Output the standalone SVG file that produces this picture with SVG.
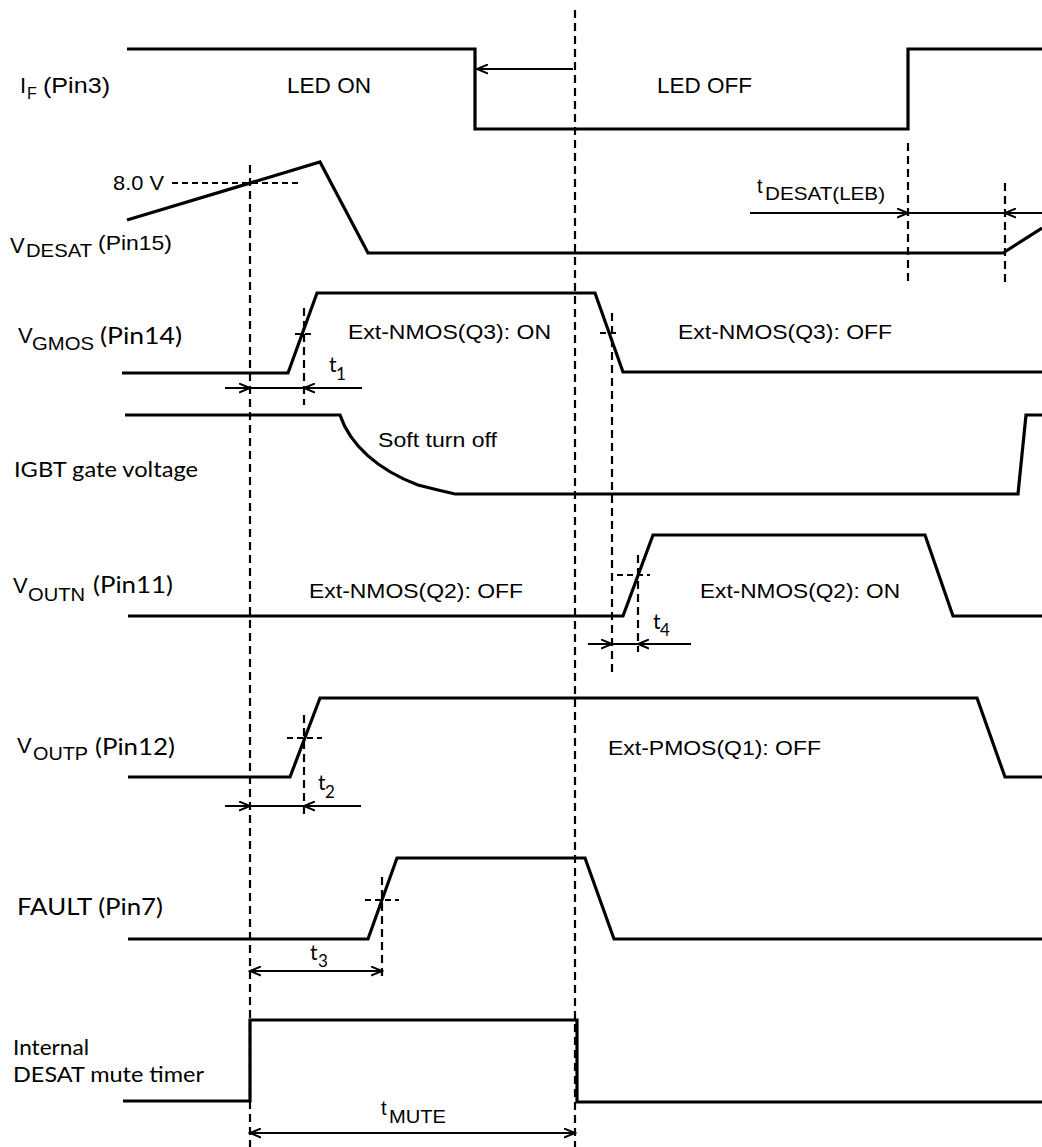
<svg xmlns="http://www.w3.org/2000/svg" width="1042" height="1147" viewBox="0 0 1042 1147">
<style>
.sig{fill:none;stroke:#000;stroke-width:3.2;stroke-linejoin:miter}
.dv{fill:none;stroke:#000;stroke-width:2.2;stroke-dasharray:8 5}
.dh{fill:none;stroke:#000;stroke-width:2;stroke-dasharray:6 4}
.ar{fill:none;stroke:#000;stroke-width:2}
.a{font-family:"Liberation Sans",Arial,sans-serif;fill:#000}
.c{font-family:Lato,"Liberation Sans",sans-serif;fill:#000}
</style>
<defs>
<marker id="ah" markerUnits="userSpaceOnUse" markerWidth="13" markerHeight="11" refX="11" refY="5" orient="auto" viewBox="0 0 13 10">
<path d="M0,0.5 L11,5 L0,9.5" fill="none" stroke="#000" stroke-width="2"/>
</marker>
</defs>
<rect width="1042" height="1147" fill="#fff"/>

<g id="guides">
<line class="dv" x1="250" y1="165" x2="250" y2="1147"/>
<line class="dv" x1="575" y1="10" x2="575" y2="1147"/>
<line class="dv" x1="304" y1="308" x2="304" y2="405"/>
<line class="dv" x1="612" y1="313" x2="612" y2="673"/>
<line class="dv" x1="638" y1="555" x2="638" y2="652"/>
<line class="dv" x1="304" y1="715" x2="304" y2="816"/>
<line class="dv" x1="382" y1="877" x2="382" y2="978"/>
<line class="dv" x1="908" y1="143" x2="908" y2="283"/>
<line class="dv" x1="1005" y1="183" x2="1005" y2="283"/>
<line class="dh" x1="172" y1="183" x2="299" y2="183"/>
<line class="dh" x1="295" y1="334" x2="315" y2="334"/>
<line class="dh" x1="600" y1="333" x2="620" y2="333"/>
<line class="dh" x1="617" y1="575" x2="650" y2="575"/>
<line class="dh" x1="287" y1="738" x2="322" y2="738"/>
<line class="dh" x1="365" y1="900" x2="399" y2="900"/>
</g>

<g id="sig-if">
<polyline class="sig" points="127,49 475,49 475,129 908,129 908,49 1042,49"/>
<text class="a" x="20" y="93" font-size="22">I</text>
<text class="a" x="27" y="99" font-size="16">F</text>
<text class="a" x="43" y="93" font-size="22" textLength="67" lengthAdjust="spacingAndGlyphs">(Pin3)</text>
<text class="a" x="287" y="93" font-size="22" textLength="84" lengthAdjust="spacingAndGlyphs">LED ON</text>
<text class="a" x="657" y="93" font-size="22" textLength="95" lengthAdjust="spacingAndGlyphs">LED OFF</text>
</g>

<g id="sig-vdesat">
<polyline class="sig" points="127,220 320,162 368,253 1003,253 1042,228"/>
<text class="a" x="113" y="190" font-size="21" textLength="51" lengthAdjust="spacingAndGlyphs">8.0 V</text>
<text class="a" x="10" y="253" font-size="22">V</text>
<text class="a" x="26" y="257" font-size="19" textLength="66" lengthAdjust="spacingAndGlyphs">DESAT</text>
<text class="a" x="98" y="250" font-size="21" textLength="74" lengthAdjust="spacingAndGlyphs">(Pin15)</text>
<text class="a" x="757" y="193" font-size="20">t</text>
<text class="a" x="765" y="200" font-size="18" textLength="120" lengthAdjust="spacingAndGlyphs">DESAT(LEB)</text>
</g>

<g id="sig-vgmos">
<polyline class="sig" points="122,373 288,373 317,293 595,293 623,372 1042,372"/>
<text class="a" x="18" y="343" font-size="22">V</text>
<text class="a" x="32" y="350" font-size="19" textLength="62" lengthAdjust="spacingAndGlyphs">GMOS</text>
<text class="c" x="100" y="344" font-size="23" textLength="82" lengthAdjust="spacingAndGlyphs">(Pin14)</text>
<text class="a" x="348" y="339" font-size="21" textLength="203" lengthAdjust="spacingAndGlyphs">Ext-NMOS(Q3): ON</text>
<text class="a" x="678" y="339" font-size="21" textLength="214" lengthAdjust="spacingAndGlyphs">Ext-NMOS(Q3): OFF</text>
<text class="c" x="329" y="372" font-size="21">t</text>
<text class="c" x="336" y="380" font-size="17">1</text>
</g>

<g id="sig-igbt">
<path class="sig" d="M125,415 L340,415 C350,445 378,470 418,485 L438,490 L455,494 L1018,494 L1026,415 L1042,415"/>
<text class="a" x="378" y="447" font-size="21" textLength="119" lengthAdjust="spacingAndGlyphs">Soft turn off</text>
<text class="c" x="14" y="477" font-size="22" textLength="184" lengthAdjust="spacingAndGlyphs">IGBT gate voltage</text>
</g>

<g id="sig-voutn">
<polyline class="sig" points="128,616 623,616 653,535 925,535 953,616 1042,616"/>
<text class="a" x="13" y="593" font-size="22">V</text>
<text class="a" x="28" y="601" font-size="19" textLength="57" lengthAdjust="spacingAndGlyphs">OUTN</text>
<text class="c" x="93" y="593" font-size="23" textLength="80" lengthAdjust="spacingAndGlyphs">(Pin11)</text>
<text class="a" x="309" y="598" font-size="21" textLength="214" lengthAdjust="spacingAndGlyphs">Ext-NMOS(Q2): OFF</text>
<text class="a" x="700" y="598" font-size="21" textLength="200" lengthAdjust="spacingAndGlyphs">Ext-NMOS(Q2): ON</text>
<text class="c" x="653" y="629" font-size="21">t</text>
<text class="c" x="660" y="636" font-size="17">4</text>
</g>

<g id="sig-voutp">
<polyline class="sig" points="128,777 290,777 320,698 977,698 1005,777 1042,777"/>
<text class="a" x="17" y="753" font-size="22">V</text>
<text class="a" x="33" y="760" font-size="19" textLength="55" lengthAdjust="spacingAndGlyphs">OUTP</text>
<text class="c" x="95" y="755" font-size="23" textLength="80" lengthAdjust="spacingAndGlyphs">(Pin12)</text>
<text class="a" x="608" y="755" font-size="21" textLength="213" lengthAdjust="spacingAndGlyphs">Ext-PMOS(Q1): OFF</text>
<text class="c" x="318" y="790" font-size="21">t</text>
<text class="c" x="325" y="798" font-size="17">2</text>
</g>

<g id="sig-fault">
<polyline class="sig" points="128,939 368,939 397,858 585,858 614,939 1042,939"/>
<text class="c" x="17" y="915" font-size="23" textLength="146" lengthAdjust="spacingAndGlyphs">FAULT (Pin7)</text>
<text class="c" x="310" y="960" font-size="21">t</text>
<text class="c" x="318" y="967" font-size="17">3</text>
</g>

<g id="sig-mute">
<polyline class="sig" points="123,1101 250,1101 250,1020 577,1020 577,1102 1042,1102"/>
<text class="c" x="13" y="1055" font-size="22" textLength="76" lengthAdjust="spacingAndGlyphs">Internal</text>
<text class="c" x="13" y="1082" font-size="22" textLength="191" lengthAdjust="spacingAndGlyphs">DESAT mute timer</text>
<text class="a" x="381" y="1115" font-size="20">t</text>
<text class="a" x="389" y="1123" font-size="18" textLength="57" lengthAdjust="spacingAndGlyphs">MUTE</text>
</g>

<g id="connectors">
<line class="ar" x1="573" y1="69" x2="477" y2="69" marker-end="url(#ah)"/>
<line class="ar" x1="750" y1="213" x2="908" y2="213" marker-end="url(#ah)"/>
<line class="ar" x1="908" y1="213" x2="1005" y2="213"/>
<line class="ar" x1="1042" y1="213" x2="1005" y2="213" marker-end="url(#ah)"/>
<line class="ar" x1="225" y1="388" x2="250" y2="388" marker-end="url(#ah)"/>
<line class="ar" x1="250" y1="388" x2="304" y2="388"/>
<line class="ar" x1="362" y1="388" x2="304" y2="388" marker-end="url(#ah)"/>
<line class="ar" x1="588" y1="644" x2="612" y2="644" marker-end="url(#ah)"/>
<line class="ar" x1="612" y1="644" x2="638" y2="644"/>
<line class="ar" x1="691" y1="644" x2="638" y2="644" marker-end="url(#ah)"/>
<line class="ar" x1="225" y1="806" x2="250" y2="806" marker-end="url(#ah)"/>
<line class="ar" x1="250" y1="806" x2="304" y2="806"/>
<line class="ar" x1="361" y1="806" x2="304" y2="806" marker-end="url(#ah)"/>
<line class="ar" x1="316" y1="971" x2="250" y2="971" marker-end="url(#ah)"/>
<line class="ar" x1="316" y1="971" x2="382" y2="971" marker-end="url(#ah)"/>
<line class="ar" x1="412" y1="1133" x2="250" y2="1133" marker-end="url(#ah)"/>
<line class="ar" x1="412" y1="1133" x2="575" y2="1133" marker-end="url(#ah)"/>
</g>
</svg>
